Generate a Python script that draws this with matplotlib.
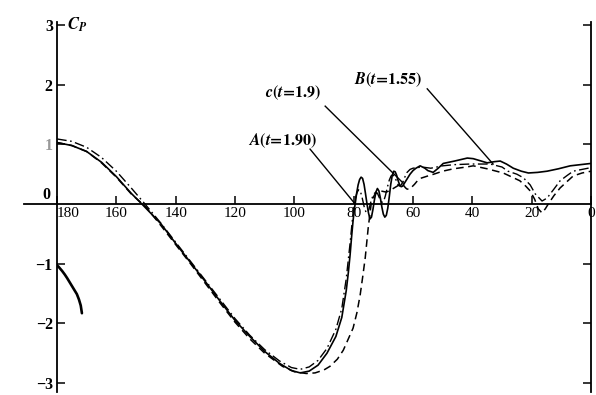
import matplotlib
matplotlib.use("Agg")
import matplotlib.pyplot as plt

# ---------------- data (angle in degrees, Cp) ----------------
solid_theta = [180, 175, 170, 165, 160, 155, 151, 145, 140, 135, 130, 125, 120, 115, 110, 105,
               101, 98, 95, 92, 89, 86, 84, 82.5, 81.8, 81.2, 80.7, 80.2, 79.8, 79.5,
               79.0, 78.5, 78.0, 77.5, 77.0, 76.5, 76.0, 75.5, 75.0, 74.5, 74.0, 73.5, 73.0,
               72.5, 72.0, 71.5, 71.0, 70.5, 70.0, 69.5, 69.0, 68.5, 68.0, 67.5, 67.0, 66.5,
               66.0, 65.5, 65.0, 64.5, 64.0, 63.5, 63.0, 62.0, 61.0, 60.0, 59.0, 57.6, 56, 55,
               53.2, 51.5, 49.8, 46, 41.7, 39.7, 37, 35, 32.5, 30.6, 28.5, 26.2, 23.5, 21.1,
               18, 14.8, 11, 7, 3.5, 0]
solid_cp = [1.03, 0.98, 0.88, 0.70, 0.46, 0.18, -0.02, -0.33, -0.66, -0.98, -1.30, -1.63, -1.95,
            -2.22, -2.47, -2.67, -2.79, -2.83, -2.80, -2.70, -2.50, -2.22, -1.90, -1.45, -1.15,
            -0.85, -0.55, -0.28, -0.10, 0.0,
            0.18, 0.32, 0.41, 0.45, 0.43, 0.33, 0.17, 0.0, -0.15, -0.25, -0.22, -0.09, 0.07,
            0.20, 0.26, 0.22, 0.10, -0.05, -0.17, -0.22, -0.19, -0.07, 0.12, 0.33, 0.48, 0.55,
            0.54, 0.48, 0.39, 0.32, 0.29, 0.30, 0.34, 0.42, 0.50, 0.56, 0.60, 0.64, 0.60, 0.56,
            0.53, 0.60, 0.68, 0.72, 0.77, 0.76, 0.72, 0.69, 0.71, 0.72, 0.67, 0.60, 0.55, 0.52,
            0.53, 0.55, 0.59, 0.64, 0.66, 0.68]

dashdot_theta = [180, 175, 170, 165, 160, 155, 150, 145, 140, 135, 130, 125, 120, 115, 110, 105,
                 101, 98, 95, 92, 89, 86, 84, 82.5, 81.3, 80.3, 79.8, 79.3, 78.8, 78.3, 77.8,
                 77.3, 76.8, 76.3, 75.8, 75.3, 74.8, 74.3, 73.8, 73.2, 72.5, 71.9, 71.3, 70.8,
                 70.3, 69.8, 69.3, 68.7, 68.0, 67.4, 66.8, 66.2, 65.5, 65.0, 64.5, 64.0, 63.3,
                 62.6, 62.0, 61.0, 60, 57, 54, 50, 46, 40.7, 34, 30, 28, 25, 22.8, 20.5, 18.8,
                 16.5, 14.8, 12.5, 10.4, 8, 6, 3, 0]
dashdot_cp = [1.09, 1.05, 0.95, 0.78, 0.55, 0.27, -0.02, -0.32, -0.64, -0.96, -1.28, -1.60,
              -1.92, -2.20, -2.44, -2.63, -2.74, -2.77, -2.73, -2.62, -2.42, -2.10, -1.75, -1.25,
              -0.70, -0.20, 0.0, 0.12, 0.20, 0.24, 0.22, 0.14, 0.03, -0.08, -0.14, -0.14, -0.08,
              0.02, 0.10, 0.17, 0.20, 0.17, 0.10, 0.05, 0.03, 0.06, 0.14, 0.27, 0.40, 0.47,
              0.49, 0.45, 0.38, 0.32, 0.30, 0.32, 0.38, 0.47, 0.53, 0.58, 0.60, 0.62, 0.60,
              0.64, 0.66, 0.67, 0.67, 0.62, 0.55, 0.50, 0.44, 0.32, 0.17, 0.05, 0.10, 0.25,
              0.39, 0.48, 0.55, 0.58, 0.61]

dashed_theta = [180, 175, 170, 165, 160, 155, 150, 145, 140, 135, 130, 125, 120, 115, 110, 104,
                100, 96, 93, 90, 88, 85.5, 83.5, 81.8, 80.2, 78.9, 77.8, 76.9, 76.1, 75.5, 75.1,
                74.6, 74.1, 73.5, 73, 72, 71, 70, 69, 68, 67, 66, 65, 64.2, 63.5, 63, 62.5, 62,
                61.2, 60.5, 59.5, 58.5, 57.5, 55, 53, 50, 46.4, 42, 39.7, 35, 29.6, 27, 24, 22,
                20.5, 19, 17.8, 16.5, 15.4, 14.4, 12.5, 10.4, 8, 6, 3, 0]
dashed_cp = [1.03, 0.98, 0.88, 0.69, 0.45, 0.17, -0.05, -0.36, -0.68, -1.00, -1.33, -1.66, -1.98,
             -2.26, -2.50, -2.72, -2.81, -2.84, -2.83, -2.78, -2.72, -2.60, -2.45, -2.26, -2.08,
             -1.82, -1.52, -1.20, -0.90, -0.60, -0.40, -0.20, 0.0, 0.10, 0.15, 0.20, 0.22, 0.21,
             0.20, 0.22, 0.25, 0.28, 0.31, 0.34, 0.34, 0.30, 0.27, 0.25, 0.25, 0.28, 0.33, 0.39,
             0.43, 0.47, 0.50, 0.55, 0.59, 0.62, 0.64, 0.59, 0.52, 0.46, 0.39, 0.30, 0.22, 0.08,
             -0.08, -0.15, -0.08, 0.0, 0.14, 0.27, 0.38, 0.47, 0.52, 0.55]

branch_theta = [180.7, 179.5, 178.3, 177.4, 176.6, 175.5, 174.4, 173.3, 172.6, 172.0, 171.6]
branch_cp = [-1.00, -1.05, -1.12, -1.18, -1.24, -1.33, -1.42, -1.51, -1.60, -1.70, -1.83]

x_ticks = [180, 160, 140, 120, 100, 80, 60, 40, 20, 0]
x_tick_labels = ["180", "160", "140", "120", "100", "80", "60", "40", "20", "0"]
y_ticks = [-3, -2, -1, 1, 2, 3]
y_tick_labels = ["\u22123", "\u22122", "\u22121", "1", "2", "3"]

labels = [r"$\mathbfit{A}\mathbf{(}\mathbfit{t}\!\mathbf{=}\!\mathbf{1.90)}$",
          r"$\mathbfit{c}\mathbf{(}\mathbfit{t}\!\mathbf{=}\!\mathbf{1.9)}$",
          r"$\mathbfit{B}\mathbf{(}\mathbfit{t}\!\mathbf{=}\!\mathbf{1.55)}$"]
label_pos = [(104.1, 1.07), (100.4, 1.86), (68.4, 2.09)]
leader_start = [(94.7, 0.92), (89.6, 1.64), (55.2, 1.93)]
leader_end = [(79.5, 0.0), (63.3, 0.35), (33.0, 0.67)]

# ---------------- figure ----------------
plt.rcParams["mathtext.fontset"] = "stix"
plt.rcParams["font.family"] = ["Liberation Serif", "DejaVu Serif"]

W, H = 596, 395
fig = plt.figure(figsize=(W / 100, H / 100), dpi=100)
left_px, right_px, top_px, bot_px = 57, 591, 22, 392
ax = fig.add_axes([left_px / W, (H - bot_px) / H, (right_px - left_px) / W, (bot_px - top_px) / H])
ax.set_xlim(180, 0)
ax.set_ylim(-3.15, 3.05)

ax.plot(solid_theta, solid_cp, color="black", lw=1.2, solid_joinstyle="round")
ax.plot(dashdot_theta, dashdot_cp, color="black", lw=1.0, dashes=(7, 2.5, 1.2, 2.5))
ax.plot(dashed_theta, dashed_cp, color="black", lw=1.1, dashes=(5, 3))
ax.plot(branch_theta, branch_cp, color="black", lw=1.9, solid_capstyle="round")

# axes lines
ax.spines["top"].set_visible(False)
ax.spines["bottom"].set_position(("data", 0))
for s in ["left", "right", "bottom"]:
    ax.spines[s].set_linewidth(1.3)
ax.plot([191, 180], [0, 0], color="black", lw=1.3, clip_on=False)

ax.set_xticks(x_ticks)
ax.set_xticklabels(x_tick_labels, fontsize=11)
ax.tick_params(axis="x", direction="in", length=6, width=1.1, pad=2)
xl = ax.get_xticklabels()
xl[0].set_ha("left")
xl[-1].set_ha("center")

ax.set_yticks(y_ticks)
ax.set_yticklabels(y_tick_labels, fontsize=11.5, fontweight="bold")
ax.tick_params(axis="y", which="both", left=True, right=True, direction="in",
               length=6, width=1.1, pad=3)
for t in ax.get_yticklabels():
    if t.get_text() == "1":
        t.set_color("0.6")

ax.text(-0.012, 0.02, "0", transform=ax.get_yaxis_transform(), ha="right", va="bottom",
        fontsize=11.5, fontweight="bold")
ax.text(176.5, 3.0, r"$\mathbfit{C}_{\mathbfit{P}}$", ha="left", va="center", fontsize=12)

for lab, (tx, ty), (sx, sy), (ex, ey) in zip(labels, label_pos, leader_start, leader_end):
    ax.text(tx, ty, lab, ha="center", va="center", fontsize=11.5)
    ax.plot([sx, ex], [sy, ey], color="black", lw=1.0)

fig.savefig("out.png", dpi=100)
